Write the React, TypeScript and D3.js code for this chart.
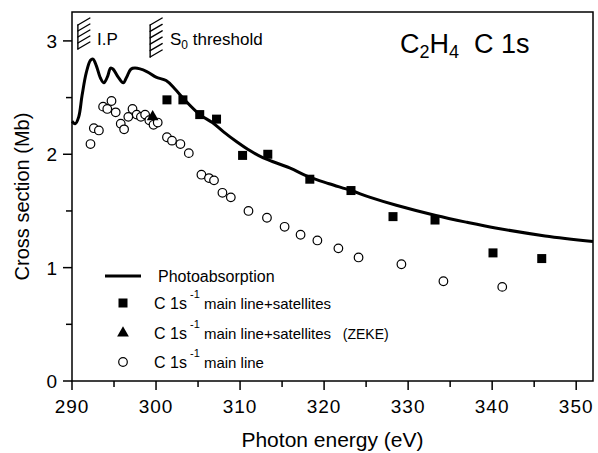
import * as d3 from "d3";

// Photoabsorption curve (eV, Mb)
const absEnergy = [290.0, 290.4, 290.8, 291.2, 291.7, 292.2, 292.5, 292.9, 293.4, 293.8, 294.2, 294.6, 294.9, 295.5, 296.1, 296.5, 297.0, 297.5, 298.9, 300.0, 301.2, 302.2, 303.4, 305.2, 306.7, 308.0, 309.6, 311.0, 312.7, 315.9, 318.2, 320.6, 323.2, 325.5, 328.6, 333.3, 337.0, 340.4, 346.3, 352.0];
const absValue = [2.29, 2.27, 2.33, 2.52, 2.72, 2.83, 2.84, 2.78, 2.67, 2.63, 2.68, 2.76, 2.75, 2.68, 2.63, 2.68, 2.75, 2.76, 2.73, 2.68, 2.65, 2.58, 2.48, 2.35, 2.28, 2.20, 2.11, 2.04, 1.97, 1.88, 1.80, 1.74, 1.68, 1.62, 1.55, 1.46, 1.40, 1.35, 1.28, 1.23];

// C 1s^-1 main line + satellites
const satEnergy = [301.3, 303.2, 305.2, 307.2, 310.3, 313.3, 318.3, 323.2, 328.2, 333.2, 340.1, 345.9];
const satValue = [2.48, 2.48, 2.35, 2.31, 1.99, 2.0, 1.78, 1.68, 1.45, 1.42, 1.13, 1.08];

// ZEKE point
const zekeEnergy = [299.6];
const zekeValue = [2.33];

// C 1s^-1 main line
const mainEnergy = [292.2, 292.6, 293.2, 293.7, 294.2, 294.7, 295.2, 295.8, 296.2, 296.7, 297.2, 297.7, 298.2, 298.7, 299.2, 299.7, 300.2, 301.3, 301.9, 302.9, 303.9, 305.4, 306.3, 306.9, 307.9, 308.9, 311.0, 313.2, 315.3, 317.2, 319.2, 321.7, 324.1, 329.2, 334.2, 341.2];
const mainValue = [2.09, 2.23, 2.21, 2.42, 2.4, 2.47, 2.37, 2.27, 2.22, 2.33, 2.4, 2.35, 2.33, 2.35, 2.3, 2.26, 2.28, 2.15, 2.12, 2.09, 2.01, 1.82, 1.79, 1.77, 1.66, 1.62, 1.5, 1.44, 1.36, 1.29, 1.24, 1.17, 1.09, 1.03, 0.88, 0.83];

const xMajor = [290, 300, 310, 320, 330, 340, 350];
const xMinor = [295, 305, 315, 325, 335, 345];
const yMajor = [0, 1, 2, 3];
const yMinor = [0.5, 1.5, 2.5];

// thresholds: I.P and S0
const thresholdEnergy = [290.7, 299.3];

const W = 598;
const H = 453;
const FONT = "'Liberation Sans', Arial, Helvetica, sans-serif";

export default function App() {
  const x = d3.scaleLinear().domain([290, 352]).range([72, 593]);
  const y = d3.scaleLinear().domain([0, 3.255]).range([381, 12]);
  const [x0, x1] = x.range();
  const [y0, y1] = y.range();

  const absData = absEnergy.map((e, i) => [e, absValue[i]] as [number, number]);
  const line = d3
    .line<[number, number]>()
    .x((d) => x(d[0]))
    .y((d) => y(d[1]))
    .curve(d3.curveCatmullRom.alpha(0.5));

  const tri = d3.symbol().type(d3.symbolTriangle).size(60)();

  // hatch glyphs: spine + slanted arms
  const hatch = (e: number, top: number, bottom: number, n: number) => {
    const sx = x(e);
    const arms = d3.range(n).map((k) => top + 7 + ((bottom - top - 7) * k) / (n - 1));
    return (
      <g stroke="#000" strokeWidth={1.4} fill="none" strokeLinecap="round">
        <line x1={sx} x2={sx} y1={top + 7} y2={bottom} />
        {arms.map((ay, k) => (
          <line key={k} x1={sx} y1={ay} x2={sx + 12} y2={ay - 7} />
        ))}
      </g>
    );
  };

  const legendX = 123;
  const legendRows = [276, 303, 333, 362];

  return (
    <div style={{ position: "absolute", left: 0, top: 0, width: W, height: H, background: "#fff" }}>
      <svg width={W} height={H} style={{ display: "block" }} fontFamily={FONT}>
        <rect width={W} height={H} fill="#fff" />

        {/* frame */}
        <rect x={x0} y={y1} width={x1 - x0} height={y0 - y1} fill="none" stroke="#000" strokeWidth={1.5} />

        {/* x ticks */}
        {xMajor.map((t) => (
          <g key={"xm" + t}>
            <line x1={x(t)} x2={x(t)} y1={y0} y2={y0 + 9} stroke="#000" strokeWidth={1.5} />
            <text x={x(t)} y={413} textAnchor="middle" fontSize={19} letterSpacing={1}>
              {t}
            </text>
          </g>
        ))}
        {xMinor.map((t) => (
          <line key={"xn" + t} x1={x(t)} x2={x(t)} y1={y0} y2={y0 + 6} stroke="#000" strokeWidth={1.5} />
        ))}

        {/* y ticks */}
        {yMajor.map((t) => (
          <g key={"ym" + t}>
            <line x1={x0 - 9} x2={x0} y1={y(t)} y2={y(t)} stroke="#000" strokeWidth={1.5} />
            <text x={57} y={y(t) + 7} textAnchor="end" fontSize={19}>
              {t}
            </text>
          </g>
        ))}
        {yMinor.map((t) => (
          <line key={"yn" + t} x1={x0 - 6} x2={x0} y1={y(t)} y2={y(t)} stroke="#000" strokeWidth={1.5} />
        ))}

        {/* axis titles */}
        <text x={(x0 + x1) / 2} y={447} textAnchor="middle" fontSize={21}>
          Photon energy (eV)
        </text>
        <text transform={`translate(29,${(y0 + y1) / 2}) rotate(-90)`} textAnchor="middle" fontSize={20}>
          Cross section (Mb)
        </text>

        {/* photoabsorption */}
        <path d={line(absData) || ""} fill="none" stroke="#000" strokeWidth={3} strokeLinejoin="round" />

        {/* main line */}
        {mainEnergy.map((e, i) => (
          <circle key={"c" + i} cx={x(e)} cy={y(mainValue[i])} r={4.3} fill="#fff" stroke="#000" strokeWidth={1.2} />
        ))}

        {/* main + satellites */}
        {satEnergy.map((e, i) => (
          <rect key={"s" + i} x={x(e) - 4.5} y={y(satValue[i]) - 4.5} width={9} height={9} fill="#000" />
        ))}

        {/* ZEKE */}
        {zekeEnergy.map((e, i) => (
          <path key={"z" + i} d={tri || ""} transform={`translate(${x(e)},${y(zekeValue[i])})`} fill="#000" />
        ))}

        {/* thresholds */}
        {hatch(thresholdEnergy[0], 18, 49, 5)}
        {hatch(thresholdEnergy[1], 18, 57, 6)}
        <text x={97} y={45} fontSize={17}>
          I.P
        </text>
        <text x={170} y={45} fontSize={17}>
          S<tspan fontSize={12} dy={4}>0</tspan>
          <tspan dy={-4}> threshold</tspan>
        </text>

        {/* title */}
        <text x={400} y={53} fontSize={27}>
          C<tspan fontSize={18} dy={5}>2</tspan>
          <tspan dy={-5}>H</tspan>
          <tspan fontSize={18} dy={5}>4</tspan>
          <tspan dy={-5}>{"\u00a0\u00a0C 1s"}</tspan>
        </text>

        {/* legend */}
        <line x1={105} x2={141} y1={legendRows[0]} y2={legendRows[0]} stroke="#000" strokeWidth={3} />
        <text x={158} y={legendRows[0] + 6} fontSize={16}>
          Photoabsorption
        </text>

        <rect x={legendX - 4.5} y={legendRows[1] - 4.5} width={9} height={9} fill="#000" />
        <text x={154} y={legendRows[1] + 6} fontSize={16}>
          C 1s<tspan fontSize={11} dy={-11}>{"\u00a0-1"}</tspan>
          <tspan dy={11} fontSize={15}>{"\u00a0main line+satellites"}</tspan>
        </text>

        <path d={tri || ""} transform={`translate(${legendX},${legendRows[2]})`} fill="#000" />
        <text x={154} y={legendRows[2] + 6} fontSize={16}>
          C 1s<tspan fontSize={11} dy={-11}>{"\u00a0-1"}</tspan>
          <tspan dy={11} fontSize={15}>{"\u00a0main line+satellites"}</tspan>
          <tspan fontSize={14}>{"\u00a0\u00a0\u00a0(ZEKE)"}</tspan>
        </text>

        <circle cx={legendX} cy={legendRows[3]} r={4.3} fill="#fff" stroke="#000" strokeWidth={1.2} />
        <text x={154} y={legendRows[3] + 6} fontSize={16}>
          C 1s<tspan fontSize={11} dy={-11}>{"\u00a0-1"}</tspan>
          <tspan dy={11} fontSize={15}>{"\u00a0main line"}</tspan>
        </text>
      </svg>
    </div>
  );
}
